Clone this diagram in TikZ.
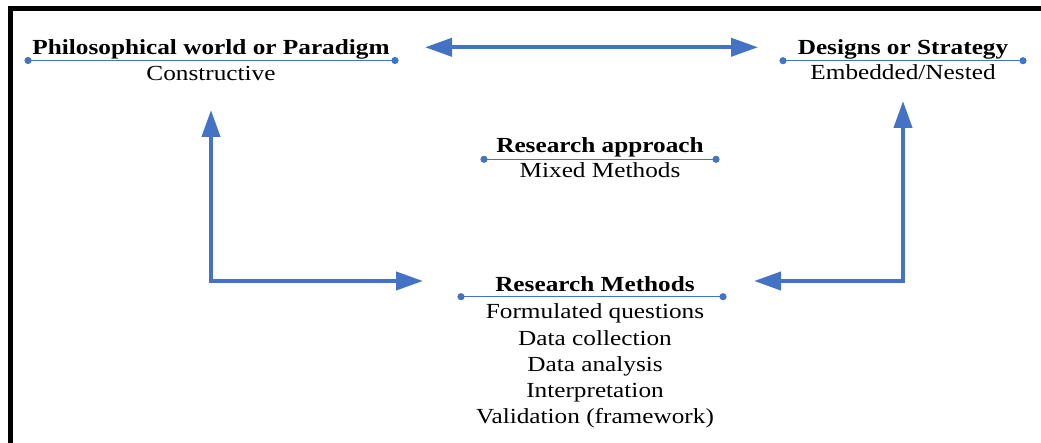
\documentclass[tikz,border=0pt]{standalone}
\usepackage{fontspec}
\setmainfont{Liberation Serif}
\usetikzlibrary{arrows.meta}
\definecolor{oblue}{HTML}{4472C4}
\tikzset{
  ttl/.style={anchor=base,inner sep=0pt,xscale=1.175,font=\fontsize{21.5}{26}\selectfont\bfseries},
  txt/.style={anchor=base,inner sep=0pt,xscale=1.175,font=\fontsize{21.5}{26}\selectfont},
  rule/.style={draw=oblue,line width=1.2pt},
  dot/.style={fill=oblue},
  tip/.style={{Triangle[length=27pt,width=18pt]}-{Triangle[length=27pt,width=18pt]}},
  bigarrow/.style={draw=oblue,line width=4pt,line join=miter,tip},
  frame/.style={draw=black,line width=5pt,line join=miter}
}
\begin{document}
\begin{tikzpicture}[x=1pt,y=-1pt]
\useasboundingbox (0,0) rectangle (1041,443);
% frame
\draw[frame] (10,448) -- (10,9) -- (1046,9);
% Philosophical
\node[ttl] (phil) at (211,54.5) {Philosophical world or Paradigm};
\node[txt] (philsub) at (211,80.5) {Constructive};
\coordinate (pl) at (28,60.5); \coordinate (pr) at (395,60.5);
\draw[rule] (pl) -- (pr);
\fill[dot] (pl) circle (3.6); \fill[dot] (pr) circle (3.6);
% Designs
\node[ttl] (des) at (903,54.3) {Designs or Strategy};
\node[txt] (dessub) at (903,80) {Embedded/Nested};
\coordinate (dl) at (783,60.7); \coordinate (dr) at (1023,60.7);
\draw[rule] (dl) -- (dr);
\fill[dot] (dl) circle (3.6); \fill[dot] (dr) circle (3.6);
% Research approach
\node[ttl] (appr) at (600,153) {Research approach};
\node[txt] (apprsub) at (600,177.5) {Mixed Methods};
\coordinate (al) at (484,159.3); \coordinate (ar) at (716,159.3);
\draw[rule] (al) -- (ar);
\fill[dot] (al) circle (3.6); \fill[dot] (ar) circle (3.6);
% Research methods
\node[ttl] (meth) at (595,291.7) {Research Methods};
\node[txt] (m1) at (595,319) {Formulated questions};
\node[txt] (m2) at (595,345) {Data collection};
\node[txt] (m3) at (595,371) {Data analysis};
\node[txt] (m4) at (595,397) {Interpretation};
\node[txt] (m5) at (595,423) {Validation (framework)};
\coordinate (ml) at (461,296.7); \coordinate (mr) at (723,296.7);
\draw[rule] (ml) -- (mr);
\fill[dot] (ml) circle (3.6); \fill[dot] (mr) circle (3.6);
% arrows
\coordinate (ta) at (425,47.3); \coordinate (tb) at (758,47.3);
\draw[bigarrow] (ta) -- (tb);
\coordinate (lup) at (211,110); \coordinate (lcorner) at (211,281); \coordinate (lright) at (423,281);
\draw[bigarrow] (lup) -- (lcorner) -- (lright);
\coordinate (rup) at (903,101); \coordinate (rcorner) at (903,281); \coordinate (rleft) at (754,281);
\draw[bigarrow] (rup) -- (rcorner) -- (rleft);
\end{tikzpicture}
\end{document}
